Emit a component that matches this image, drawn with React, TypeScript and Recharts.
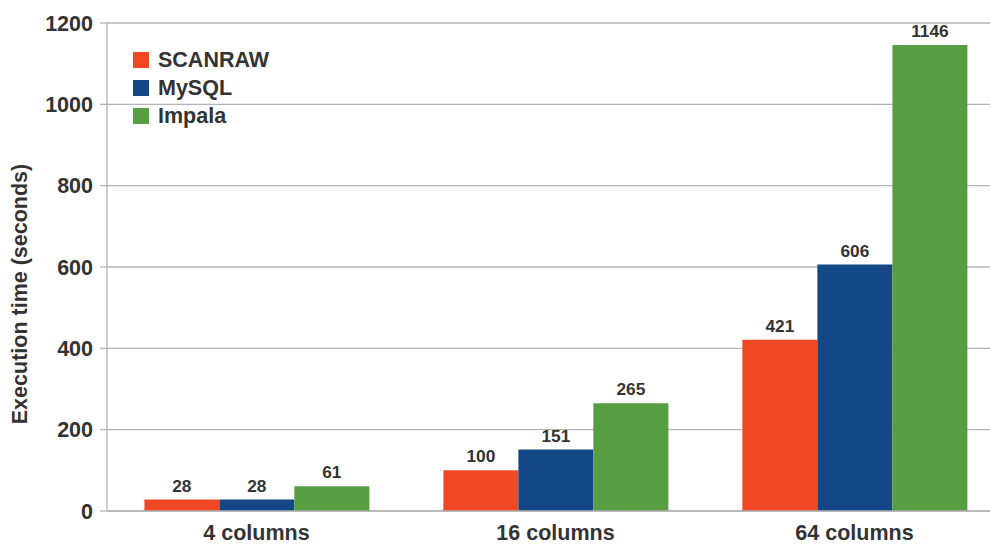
import React from 'react';
import { BarChart, Bar, XAxis, YAxis, CartesianGrid, Legend, LabelList } from 'recharts';

const categories = ['4 columns', '16 columns', '64 columns'];
const seriesNames = ['SCANRAW', 'MySQL', 'Impala'];
const scanraw = [28, 100, 421];
const mysql = [28, 151, 606];
const impala = [61, 265, 1146];
const yTicks = [0, 200, 400, 600, 800, 1000, 1200];
const separatorTicks = [0, 1, 2, 3];

const data = categories.map((c, i) => ({
  name: c,
  SCANRAW: scanraw[i],
  MySQL: mysql[i],
  Impala: impala[i],
}));

const FONT = '"Liberation Sans", Arial, sans-serif';
const TEXT = '#333333';
const GRID = '#b3b3b3';

const LegendBox = (props: any) => {
  const payload = [...(props.payload || [])].sort(
    (a: any, b: any) => seriesNames.indexOf(a.value) - seriesNames.indexOf(b.value)
  );
  return (
    <div style={{ fontFamily: FONT, fontWeight: 'bold', fontSize: 21.5, color: TEXT }}>
      {payload.map((p: any) => (
        <div key={p.value} style={{ height: 28, display: 'flex', alignItems: 'center' }}>
          <span style={{ display: 'inline-block', width: 16, height: 16, background: p.color, marginRight: 9 }} />
          <span>{p.value}</span>
        </div>
      ))}
    </div>
  );
};

const YLabel = (props: any) => {
  const { viewBox } = props;
  const cx = 20;
  const cy = viewBox.y + viewBox.height / 2 + 27;
  return (
    <text
      x={cx}
      y={cy}
      transform={`rotate(-90, ${cx}, ${cy})`}
      textAnchor="middle"
      dominantBaseline="central"
      fontFamily={FONT}
      fontWeight="bold"
      fontSize={21.5}
      fill={TEXT}
    >
      Execution time (seconds)
    </text>
  );
};

export default function App() {
  return (
    <div style={{ position: 'fixed', left: 0, top: 0, width: 990, height: 544, overflow: 'hidden', background: '#fff' }}>
      <BarChart
        width={1010}
        height={544}
        data={data}
        margin={{ top: 23, right: 6, left: 0, bottom: 0 }}
        barCategoryGap="12.5%"
        barGap={0}
      >
        <CartesianGrid vertical={false} stroke={GRID} strokeWidth={1.3} xAxisId="cat" />
        <XAxis
          xAxisId="cat"
          dataKey="name"
          height={33}
          axisLine={{ stroke: GRID, strokeWidth: 1.3 }}
          tickLine={false}
          tickSize={0}
          tickMargin={14}
          tick={{ fontFamily: FONT, fontWeight: 'bold', fontSize: 21.5, fill: TEXT }}
        />
        <XAxis
          xAxisId="sep"
          type="number"
          dataKey="sepIndex"
          domain={[0, 3]}
          allowDataOverflow
          ticks={separatorTicks}
          height={1}
          mirror
          axisLine={false}
          tickLine={{ stroke: GRID, strokeWidth: 1.3 }}
          tickSize={-8}
          tick={false}
        />
        <YAxis
          width={107}
          domain={[0, 1200]}
          ticks={yTicks}
          axisLine={{ stroke: GRID, strokeWidth: 1.3 }}
          tickLine={{ stroke: GRID, strokeWidth: 1.3 }}
          tickSize={7}
          tickMargin={7}
          tick={{ fontFamily: FONT, fontWeight: 'bold', fontSize: 21.5, fill: TEXT }}
          label={<YLabel />}
        />
        <Legend
          layout="horizontal"
          verticalAlign="middle"
          align="center"
          content={<LegendBox />}
          wrapperStyle={{ left: 133, top: 46, width: 200, height: 84 }}
        />
        <Bar xAxisId="cat" dataKey="SCANRAW" fill="#EF4823" isAnimationActive={false}>
          <LabelList dataKey="SCANRAW" position="top" offset={8} fontFamily={FONT} fontWeight="bold" fontSize={17.3} fill={TEXT} />
        </Bar>
        <Bar xAxisId="cat" dataKey="MySQL" fill="#134786" isAnimationActive={false}>
          <LabelList dataKey="MySQL" position="top" offset={8} fontFamily={FONT} fontWeight="bold" fontSize={17.3} fill={TEXT} />
        </Bar>
        <Bar xAxisId="cat" dataKey="Impala" fill="#579D42" isAnimationActive={false}>
          <LabelList dataKey="Impala" position="top" offset={8} fontFamily={FONT} fontWeight="bold" fontSize={17.3} fill={TEXT} />
        </Bar>
      </BarChart>
    </div>
  );
}
